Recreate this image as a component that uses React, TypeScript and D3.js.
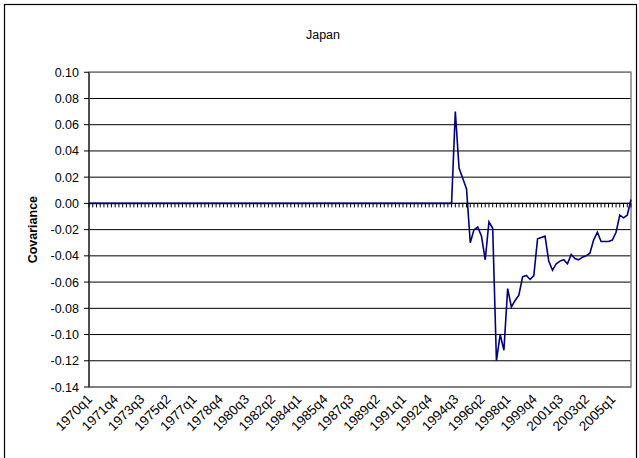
import React from "react";
import * as d3 from "d3";

const title = "Japan";
const yTitle = "Covariance";
const yTicks = [0.1, 0.08, 0.06, 0.04, 0.02, 0.0, -0.02, -0.04, -0.06, -0.08, -0.1, -0.12, -0.14];
const tickLabels = [
  "1970q1", "1971q4", "1973q3", "1975q2", "1977q1", "1978q4", "1980q3", "1982q2", "1984q1", "1985q4",
  "1987q3", "1989q2", "1991q1", "1992q4", "1994q3", "1996q2", "1998q1", "1999q4", "2001q3", "2003q2", "2005q1",
];
const startYear = 1970;
const quarterCount = 146; // 1970q1 .. 2006q2
const categories: string[] = [];
for (let i = 0; i < quarterCount; i++) {
  categories.push(`${startYear + Math.floor(i / 4)}q${(i % 4) + 1}`);
}
// 1970q1 .. 1994q2: zero covariance
const valuesEarly = [
  0, 0, 0, 0, 0, 0, 0, 0, 0, 0, 0, 0, 0, 0, 0, 0, 0, 0, 0, 0,
  0, 0, 0, 0, 0, 0, 0, 0, 0, 0, 0, 0, 0, 0, 0, 0, 0, 0, 0, 0,
  0, 0, 0, 0, 0, 0, 0, 0, 0, 0, 0, 0, 0, 0, 0, 0, 0, 0, 0, 0,
  0, 0, 0, 0, 0, 0, 0, 0, 0, 0, 0, 0, 0, 0, 0, 0, 0, 0, 0, 0,
  0, 0, 0, 0, 0, 0, 0, 0, 0, 0, 0, 0, 0, 0, 0, 0, 0, 0,
];
// 1994q3 .. 2006q2
const valuesLate = [
  0.07, 0.027, 0.019, 0.011, -0.03, -0.02, -0.018, -0.025, -0.043, -0.014,
  -0.019, -0.12, -0.1, -0.112, -0.065, -0.079, -0.074, -0.07, -0.056, -0.055,
  -0.058, -0.055, -0.027, -0.026, -0.025, -0.044, -0.051, -0.046, -0.044, -0.043,
  -0.046, -0.039, -0.042, -0.043, -0.041, -0.04, -0.038, -0.028, -0.022, -0.029,
  -0.029, -0.029, -0.028, -0.022, -0.009, -0.011, -0.009, 0.003,
];
const values = [...valuesEarly, ...valuesLate];

const W = 639;
const H = 458;
const plot = { left: 89, right: 631, top: 72.25, bottom: 387 };
const FONT = "Arial, 'Liberation Sans', sans-serif";

export default function App() {
  const x = d3.scalePoint<string>().domain(categories).range([plot.left, plot.right]);
  const y = d3.scaleLinear().domain([-0.14, 0.1]).range([plot.bottom, plot.top]);
  const line = d3
    .line<number>()
    .x((_, i) => x(categories[i]) as number)
    .y((d) => y(d));
  const y0 = y(0);
  return (
    <svg width={W} height={H} style={{ position: "absolute", left: 0, top: 0, background: "#fff" }}>
      <rect x={0} y={0} width={W} height={H} fill="#fff" />
      <rect x={4.5} y={4.5} width={632} height={470} fill="none" stroke="#000" strokeWidth={1.2} />
      <text x={323} y={39} textAnchor="middle" fontFamily={FONT} fontSize={12.5} fill="#000">
        {title}
      </text>
      {yTicks.map((t) => (
        <line key={"g" + t} x1={plot.left} x2={plot.right} y1={y(t)} y2={y(t)} stroke="#000" strokeWidth={1} />
      ))}
      <rect
        x={plot.left}
        y={plot.top}
        width={plot.right - plot.left}
        height={plot.bottom - plot.top}
        fill="none"
        stroke="#808080"
        strokeWidth={1.5}
      />
      <line x1={plot.left} x2={plot.left} y1={plot.top} y2={plot.bottom} stroke="#000" strokeWidth={1} />
      {yTicks.map((t) => (
        <g key={"yt" + t}>
          <line x1={plot.left - 5} x2={plot.left} y1={y(t)} y2={y(t)} stroke="#000" strokeWidth={1} />
          <text x={79} y={y(t) + 4.5} textAnchor="end" fontFamily={FONT} fontSize={12.5} fill="#000">
            {d3.format(".2f")(t).replace("−", "-")}
          </text>
        </g>
      ))}
      <text
        transform={`translate(37,${(plot.top + plot.bottom) / 2}) rotate(-90)`}
        textAnchor="middle"
        fontFamily={FONT}
        fontSize={12.5}
        fontWeight="bold"
        fill="#000"
      >
        {yTitle}
      </text>
      <line x1={plot.left} x2={plot.right} y1={y0} y2={y0} stroke="#000" strokeWidth={1.2} />
      {categories.map((c) => (
        <line key={"xt" + c} x1={x(c)} x2={x(c)} y1={y0} y2={y0 + 4} stroke="#000" strokeWidth={1} />
      ))}
      {tickLabels.map((c) => (
        <text
          key={"xl" + c}
          transform={`translate(${(x(c) as number) + 4},${plot.bottom + 13}) rotate(-45)`}
          textAnchor="end"
          fontFamily={FONT}
          fontSize={13.5}
          fill="#000"
        >
          {c}
        </text>
      ))}
      <path d={line(values) || ""} fill="none" stroke="#000080" strokeWidth={1.6} />
    </svg>
  );
}
